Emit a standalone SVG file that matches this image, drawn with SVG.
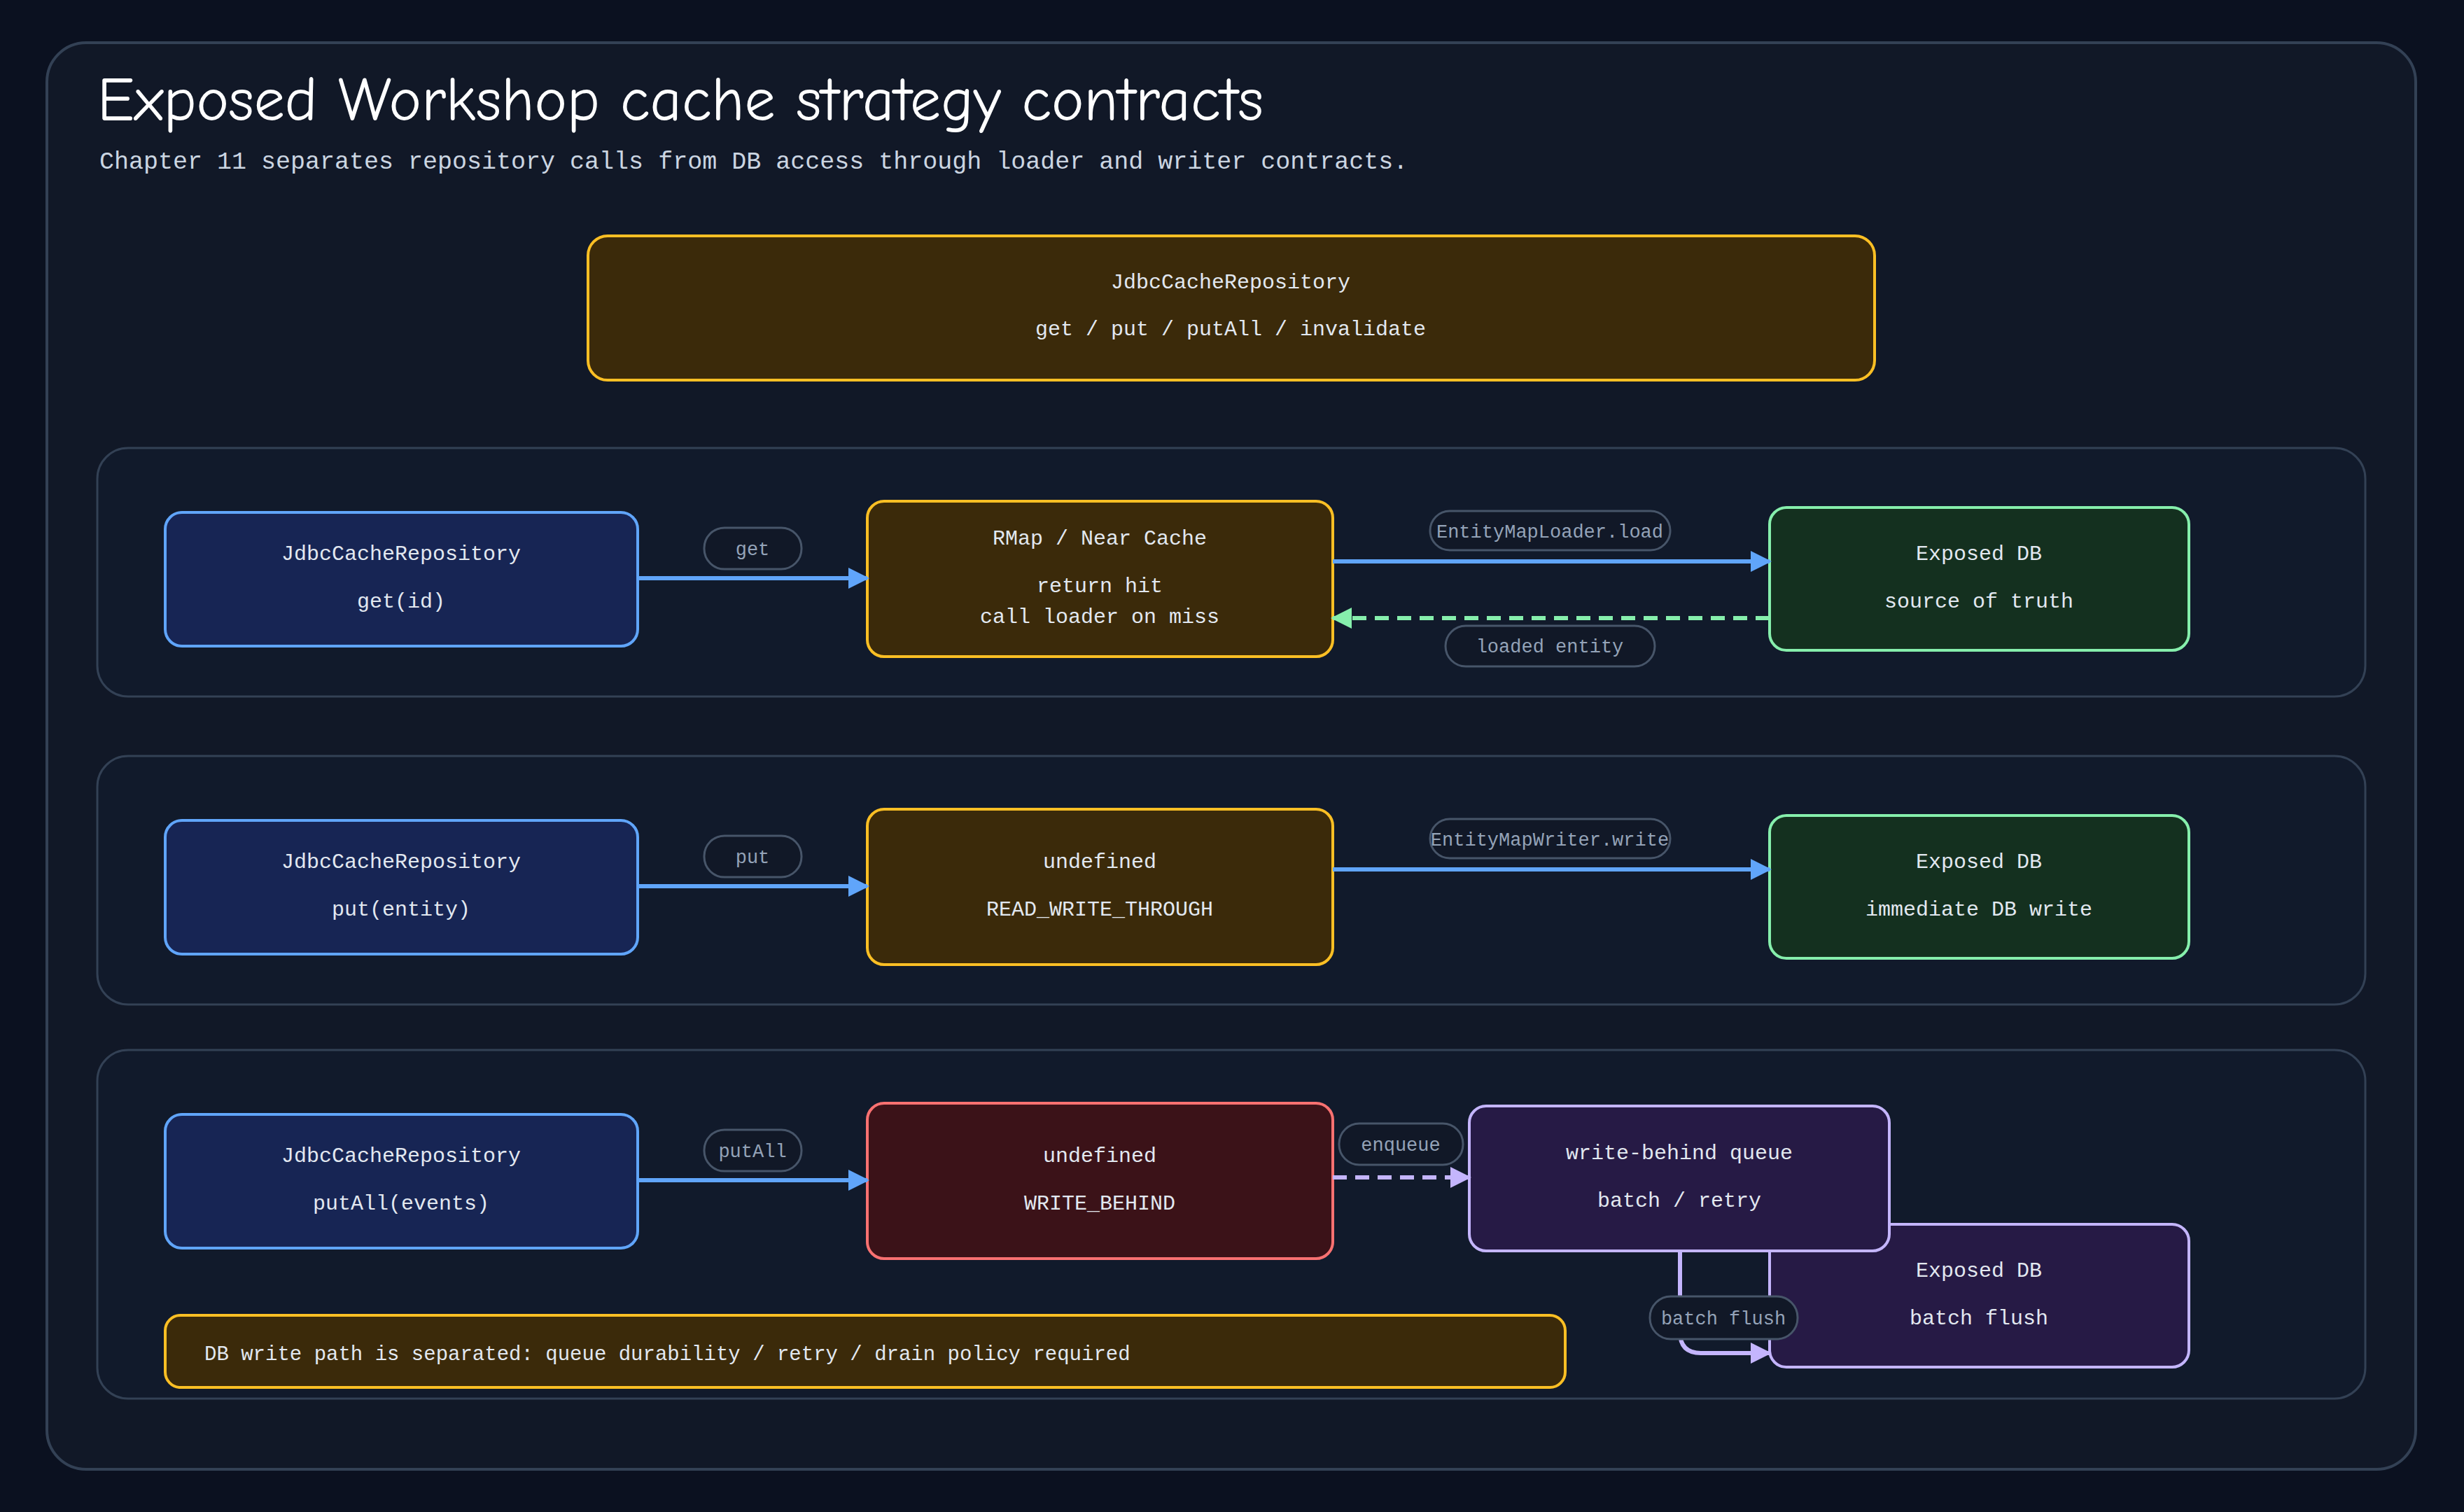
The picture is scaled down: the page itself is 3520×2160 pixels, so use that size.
<svg xmlns="http://www.w3.org/2000/svg" width="3520" height="2160" viewBox="0 0 3520 2160">
<style>
.t{font-family:"Liberation Mono","DejaVu Sans Mono",monospace;fill:#e2e8f0;font-size:30px;text-anchor:middle}
.pl rect{fill:#111827;stroke:#475569;stroke-width:3}
.pl text{font-family:"Liberation Mono","DejaVu Sans Mono",monospace;fill:#94a3b8;font-size:27px;text-anchor:middle}
.lane{fill:#111a2b;stroke:#334155;stroke-width:3}
.blue{fill:#172554;stroke:#60a5fa;stroke-width:4}
.yel{fill:#3b2a0a;stroke:#fbbf24;stroke-width:4}
.grn{fill:#14301f;stroke:#86efac;stroke-width:4}
.red{fill:#3b1218;stroke:#f87171;stroke-width:4}
.pur{fill:#261a45;stroke:#c4b5fd;stroke-width:4}
.e{fill:none;stroke-width:6}
</style>
<defs>
<marker id="ab" viewBox="0 0 10 10" refX="9" refY="5" markerWidth="5" markerHeight="5" orient="auto"><path d="M0,0L10,5L0,10z" fill="#60a5fa"/></marker>
<marker id="ag" viewBox="0 0 10 10" refX="9" refY="5" markerWidth="5" markerHeight="5" orient="auto"><path d="M0,0L10,5L0,10z" fill="#86efac"/></marker>
<marker id="ap" viewBox="0 0 10 10" refX="9" refY="5" markerWidth="5" markerHeight="5" orient="auto"><path d="M0,0L10,5L0,10z" fill="#c4b5fd"/></marker>
</defs>
<rect width="3520" height="2160" fill="#0b1120"/>
<rect x="67" y="61" width="3384" height="2038" rx="56" fill="#111827" stroke="#334155" stroke-width="4"/>
<text x="139" y="172" font-family="'Comic Neue','Liberation Sans',sans-serif" font-size="88" fill="#ffffff">Exposed Workshop cache strategy contracts</text>
<text x="142" y="241" font-family="'Liberation Mono',monospace" font-size="35" fill="#cbd5e1">Chapter 11 separates repository calls from DB access through loader and writer contracts.</text>
<rect class="lane" x="139" y="640" width="3240" height="355" rx="44"/>
<rect class="lane" x="139" y="1080" width="3240" height="355" rx="44"/>
<rect class="lane" x="139" y="1500" width="3240" height="498" rx="44"/>
<g id="top"><rect class="yel" x="840" y="337" width="1838" height="206" rx="28"/><text class="t" x="1758" y="412">JdbcCacheRepository</text><text class="t" x="1758" y="479">get / put / putAll / invalidate</text></g>
<g id="r1a"><rect class="blue" x="236" y="732" width="675" height="191" rx="24"/><text class="t" x="573" y="800">JdbcCacheRepository</text><text class="t" x="573" y="868">get(id)</text></g>
<g id="r1b"><rect class="yel" x="1239" y="716" width="665" height="222" rx="24"/><text class="t" x="1571" y="778">RMap / Near Cache</text><text class="t" x="1571" y="846">return hit</text><text class="t" x="1571" y="890">call loader on miss</text></g>
<g id="r1c"><rect class="grn" x="2528" y="725" width="599" height="204" rx="24"/><text class="t" x="2827" y="800">Exposed DB</text><text class="t" x="2827" y="868">source of truth</text></g>
<g id="r2a"><rect class="blue" x="236" y="1172" width="675" height="191" rx="24"/><text class="t" x="573" y="1240">JdbcCacheRepository</text><text class="t" x="573" y="1308">put(entity)</text></g>
<g id="r2b"><rect class="yel" x="1239" y="1156" width="665" height="222" rx="24"/><text class="t" x="1571" y="1240">undefined</text><text class="t" x="1571" y="1308">READ_WRITE_THROUGH</text></g>
<g id="r2c"><rect class="grn" x="2528" y="1165" width="599" height="204" rx="24"/><text class="t" x="2827" y="1240">Exposed DB</text><text class="t" x="2827" y="1308">immediate DB write</text></g>
<g id="r3a"><rect class="blue" x="236" y="1592" width="675" height="191" rx="24"/><text class="t" x="573" y="1660">JdbcCacheRepository</text><text class="t" x="573" y="1728">putAll(events)</text></g>
<g id="r3b"><rect class="red" x="1239" y="1576" width="665" height="222" rx="24"/><text class="t" x="1571" y="1660">undefined</text><text class="t" x="1571" y="1728">WRITE_BEHIND</text></g>
<g id="r3d"><rect class="pur" x="2528" y="1749" width="599" height="204" rx="24"/><text class="t" x="2827" y="1824">Exposed DB</text><text class="t" x="2827" y="1892">batch flush</text></g>
<g id="r3c"><rect class="pur" x="2099" y="1580" width="600" height="207" rx="24"/><text class="t" x="2399" y="1656">write-behind queue</text><text class="t" x="2399" y="1724">batch / retry</text></g>
<g id="note"><rect class="yel" x="236" y="1879" width="2000" height="103" rx="22"/><text x="292" y="1943" font-family="'Liberation Mono',monospace" font-size="29" fill="#e2e8f0">DB write path is separated: queue durability / retry / drain policy required</text></g>
<g id="edges">
<path class="e" d="M911,826H1239" stroke="#60a5fa" marker-end="url(#ab)"/>
<path class="e" d="M1904,802H2528" stroke="#60a5fa" marker-end="url(#ab)"/>
<path class="e" d="M2528,883H1904" stroke="#86efac" stroke-dasharray="20 12" marker-end="url(#ag)"/>
<path class="e" d="M911,1266H1239" stroke="#60a5fa" marker-end="url(#ab)"/>
<path class="e" d="M1904,1242H2528" stroke="#60a5fa" marker-end="url(#ab)"/>
<path class="e" d="M911,1686H1239" stroke="#60a5fa" marker-end="url(#ab)"/>
<path class="e" d="M1904,1682H2099" stroke="#c4b5fd" stroke-dasharray="20 12" marker-end="url(#ap)"/>
<path class="e" d="M2400,1787V1903Q2400,1933 2430,1933H2528" stroke="#c4b5fd" marker-end="url(#ap)"/>
<g class="pl"><rect x="1006" y="754" width="139" height="59" rx="29"/><text x="1075" y="793">get</text></g>
<g class="pl"><rect x="2043" y="730" width="343" height="56" rx="28"/><text x="2214" y="768">EntityMapLoader.load</text></g>
<g class="pl"><rect x="2065" y="894" width="299" height="58" rx="29"/><text x="2214" y="932">loaded entity</text></g>
<g class="pl"><rect x="1006" y="1194" width="139" height="59" rx="29"/><text x="1075" y="1233">put</text></g>
<g class="pl"><rect x="2043" y="1170" width="343" height="56" rx="28"/><text x="2214" y="1208">EntityMapWriter.write</text></g>
<g class="pl"><rect x="1006" y="1614" width="139" height="59" rx="29"/><text x="1075" y="1653">putAll</text></g>
<g class="pl"><rect x="1913" y="1605" width="177" height="59" rx="29"/><text x="2001" y="1644">enqueue</text></g>
<g class="pl"><rect x="2357" y="1852" width="211" height="61" rx="30"/><text x="2462" y="1892">batch flush</text></g>
</g>
</svg>
